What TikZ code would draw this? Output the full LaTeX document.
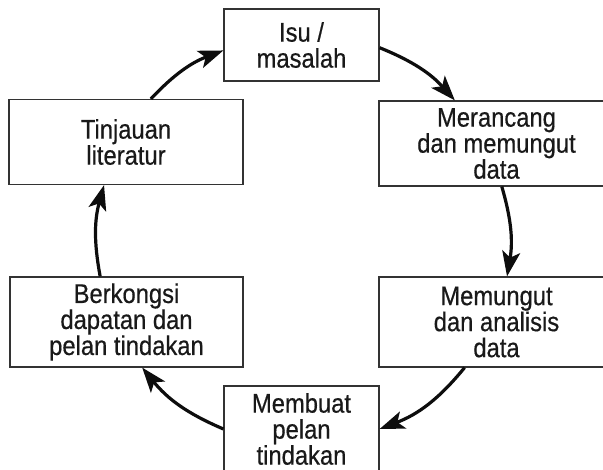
\documentclass[tikz,border=0pt]{standalone}
\usepackage{fontspec}
\setmainfont[FakeStretch=0.88,FakeBold=0.5]{Liberation Sans}
\usetikzlibrary{arrows.meta}
\tikzset{
  box/.style={draw=black!80, line width=1.2pt, align=center, inner sep=0pt,
    font=\fontsize{27}{26}\selectfont, text=black!90},
  arr/.style={line width=3.2pt, black!95,
    -{Stealth[length=25pt,width=18pt,inset=6pt]}}
}
\begin{document}
\begin{tikzpicture}[x=1pt,y=1pt]
\useasboundingbox (0,0) rectangle (603,470);
\clip (0,0) rectangle (603,470);
\fill[white] (0,0) rectangle (603,470);
\node[box, minimum width=155, minimum height=72] (isu) at (301.5,425) {Isu /\\masalah};
\node[box, minimum width=234, minimum height=85] (tin) at (126,328) {Tinjauan\\literatur};
\node[box, minimum width=235, minimum height=85] (mer) at (496.5,326.5) {Merancang\\dan memungut\\data};
\node[box, minimum width=235, minimum height=90] (mem) at (496.5,148) {Memungut\\dan analisis\\data};
\node[box, minimum width=233, minimum height=90] (ber) at (126.5,148) {Berkongsi\\dapatan dan\\pelan tindakan};
\node[box, minimum width=155, minimum height=86] (mbu) at (301.5,41) {Membuat\\pelan\\tindakan};
\draw[arr] (tin.60) to[bend left=13] (isu.184);
\draw[arr] (isu.-2) to[bend left=13] (mer.134);
\draw[arr] (mer.-83) to[bend left=13] (mem.77);
\draw[arr] (mem.-125) to[bend left=15] (mbu.east);
\draw[arr] (mbu.west) to[bend left=14] (ber.-71);
\draw[arr] (ber.120) to[bend left=13] (tin.-117);
\end{tikzpicture}
\end{document}
